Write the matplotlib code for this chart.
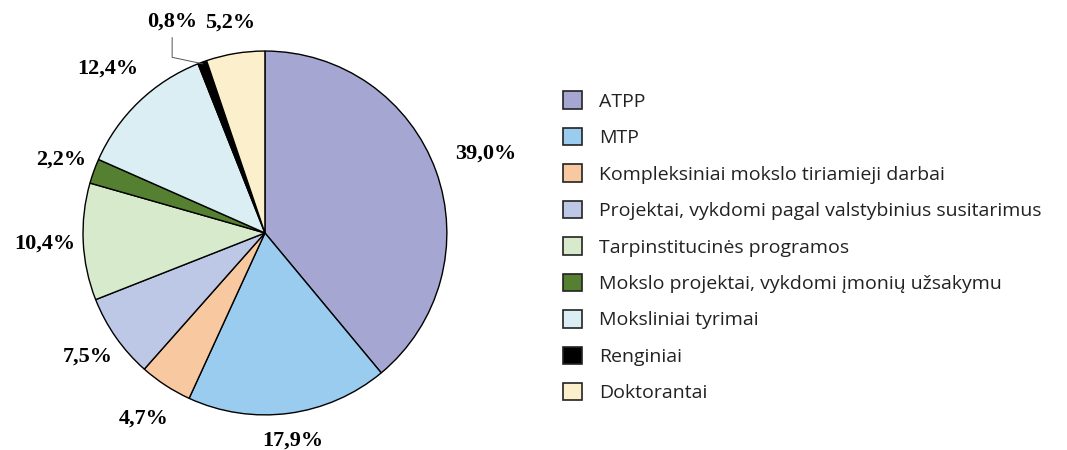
import matplotlib
matplotlib.use('Agg')
import matplotlib.pyplot as plt
import numpy as np
from matplotlib.patches import Patch

categories = ['ATPP', 'MTP', 'Kompleksiniai mokslo tiriamieji darbai',
              'Projektai, vykdomi pagal valstybinius susitarimus',
              'Tarpinstitucinės programos',
              'Mokslo projektai, vykdomi įmonių užsakymu',
              'Moksliniai tyrimai', 'Renginiai', 'Doktorantai']
shares = [39.0, 17.9, 4.7, 7.5, 10.4, 2.2, 12.4, 0.8, 5.2]
labels = ['39,0%', '17,9%', '4,7%', '7,5%', '10,4%', '2,2%', '12,4%', '0,8%', '5,2%']
colors = ['#A6A6D2', '#99CCEE', '#F8C8A0', '#BCC8E6', '#D8EACC',
          '#558032', '#DAEEF3', '#000000', '#FCF0CC']
label_dist = [1.29, 1.15, 1.22, 1.19, 1.21, 1.19, 1.25, 1.0, 1.17]

fig = plt.figure(figsize=(10.67, 4.5), dpi=100)
ax = fig.add_axes([0.0778, 0.0778, 0.341, 0.809])

wedges, _ = ax.pie(shares, colors=colors, startangle=90, counterclock=False,
                   wedgeprops=dict(edgecolor='black', linewidth=1.0))
ax.set_aspect('equal')
ax.set_xlim(-1, 1)
ax.set_ylim(-1, 1)

for w, lab, d in zip(wedges, labels, label_dist):
    ang = np.deg2rad((w.theta1 + w.theta2) / 2)
    if lab == '0,8%':
        x0, y0 = np.cos(ang) * 0.99, np.sin(ang) * 0.99
        ax.annotate(lab, xy=(x0, y0), xytext=(-0.51, 1.16),
                    ha='center', va='center', fontsize=16, fontweight='bold',
                    family='Liberation Serif',
                    arrowprops=dict(arrowstyle='-', color='#555555', lw=0.7,
                                    connectionstyle='angle,angleA=90,angleB=-12,rad=0',
                                    shrinkA=2, shrinkB=0))
        continue
    ax.text(np.cos(ang) * d, np.sin(ang) * d, lab, ha='center', va='center',
            fontsize=16, fontweight='bold', family='Liberation Serif')

handles = [Patch(facecolor=c, edgecolor='#222222', linewidth=1.2) for c in colors]
fig.legend(handles, categories, loc='upper left', bbox_to_anchor=(0.511, 0.836),
           frameon=False, handlelength=1.0, handleheight=1.0, handletextpad=0.88,
           labelspacing=0.88, prop=dict(family='Open Sans', size=14),
           labelcolor='#222222')

fig.savefig('out.png', dpi=100)
